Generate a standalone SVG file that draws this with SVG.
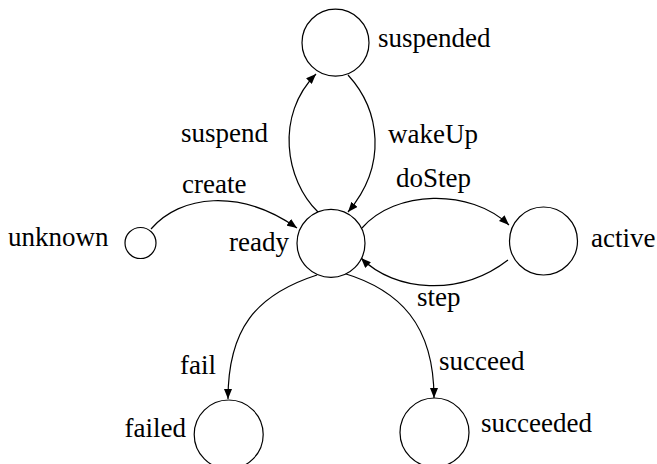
<svg xmlns="http://www.w3.org/2000/svg" width="657" height="464" viewBox="0 0 657 464">
  <style>
    .state { fill: #ffffff; stroke: #000000; stroke-width: 1.2; }
    .edge { fill: none; stroke: #000000; stroke-width: 1.2; marker-end: url(#arrow); }
    .lbl { font-family: "Times New Roman", Times, "Liberation Serif", "DejaVu Serif", serif; font-size: 27px; fill: #000000; }
  </style>
  <defs>
    <marker id="arrow" viewBox="0 0 10 8" refX="10" refY="4" markerWidth="10" markerHeight="8" markerUnits="userSpaceOnUse" orient="auto">
      <path d="M0,0 L10,4 L0,8 Z" fill="#000000"/>
    </marker>
  </defs>
  <rect width="657" height="464" fill="#ffffff"/>

  <g id="edges">
    <path id="e-create" class="edge" d="M151,229 C180,195 240,188 297,228"/>
    <path id="e-suspend" class="edge" d="M318,212 C285,180 275,115 316,74"/>
    <path id="e-wakeUp" class="edge" d="M348,75 C380,110 388,165 348,212"/>
    <path id="e-doStep" class="edge" d="M362,228 C395,190 470,188 509,225"/>
    <path id="e-step" class="edge" d="M508,260 C460,297 395,292 361,258"/>
    <path id="e-fail" class="edge" d="M317,275 C255,295 228,330 228,399"/>
    <path id="e-succeed" class="edge" d="M343,273 C400,290 434,325 434,398"/>
    <text class="lbl" x="182" y="193">create</text>
    <text class="lbl" x="268" y="142" text-anchor="end">suspend</text>
    <text class="lbl" x="388" y="143">wakeUp</text>
    <text class="lbl" x="396" y="187">doStep</text>
    <text class="lbl" x="417" y="306">step</text>
    <text class="lbl" x="180" y="374">fail</text>
    <text class="lbl" x="439" y="370">succeed</text>
  </g>

  <g id="unknown">
    <circle class="state" cx="140.5" cy="243" r="15.5"/>
    <text class="lbl" x="8" y="246">unknown</text>
  </g>
  <g id="ready">
    <circle class="state" cx="331" cy="243.3" r="34"/>
    <text class="lbl" x="289" y="251" text-anchor="end">ready</text>
  </g>
  <g id="suspended">
    <circle class="state" cx="335.5" cy="42.7" r="33.5"/>
    <text class="lbl" x="378" y="47">suspended</text>
  </g>
  <g id="active">
    <circle class="state" cx="543.5" cy="241" r="34"/>
    <text class="lbl" x="591" y="247">active</text>
  </g>
  <g id="failed">
    <circle class="state" cx="228.7" cy="434.5" r="34.5"/>
    <text class="lbl" x="186" y="437" text-anchor="end">failed</text>
  </g>
  <g id="succeeded">
    <circle class="state" cx="434.5" cy="432.5" r="34.5"/>
    <text class="lbl" x="481" y="432">succeeded</text>
  </g>
</svg>
